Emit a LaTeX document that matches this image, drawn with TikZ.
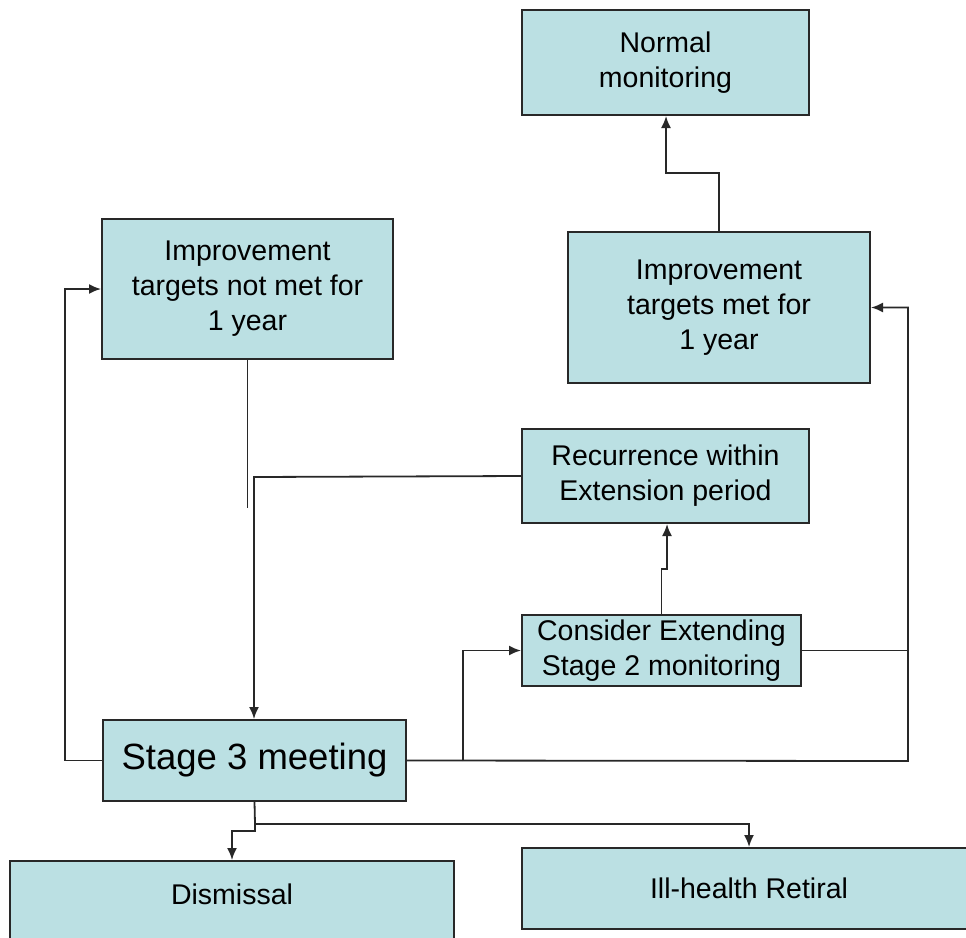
\documentclass[tikz,border=0pt]{standalone}
\usepackage{fontspec}
\setmainfont{Liberation Sans}
\usepackage{tikz}
\usetikzlibrary{arrows.meta}
\usetikzlibrary{calc}

\definecolor{boxfill}{RGB}{187,224,227}
\definecolor{boxline}{RGB}{40,40,40}

\tikzset{
  stagebox/.style={draw=boxline, fill=boxfill, line width=2pt, align=center, inner sep=0pt,
    font=\fontsize{28.5}{35}\selectfont},
  flow/.style={draw=boxline, line width=1.8pt},
  flowarrow/.style={flow, -{Latex[length=12pt,width=10pt]}}
}

\begin{document}
\begin{tikzpicture}[x=1pt,y=-1pt]
\clip (0,0) rectangle (966,937);
\fill[white] (0,0) rectangle (966,937);

% boxes
\node[stagebox, minimum width=287pt, minimum height=105pt] (normal) at (665.5,62.5) {Normal\\monitoring};
\node[stagebox, minimum width=302pt, minimum height=151pt] (met) at (719,307.5) {Improvement\\targets met for\\1 year};
\node[stagebox, minimum width=291pt, minimum height=140pt] (notmet) at (247.5,289) {Improvement\\targets not met for\\1 year};
\node[stagebox, minimum width=287pt, minimum height=94pt] (recur) at (665.5,476) {Recurrence within\\Extension period};
\node[stagebox, minimum width=279pt, minimum height=71pt] (consider) at (661.5,650.5) {Consider Extending\\Stage 2 monitoring};
\node[stagebox, minimum width=303pt, minimum height=81pt, font=\fontsize{36.5}{40}\selectfont] (stage3) at (254.5,760.5) {Stage 3 meeting};
\node[stagebox, anchor=north, minimum width=444pt, text height=43pt, text depth=47pt] (dismissal) at (232,860) {Dismissal};
\node[stagebox, minimum width=454pt, minimum height=81pt] (ill) at (749,888.5) {Ill-health Retiral};

% junctions
\coordinate (jogN) at (666,173);
\coordinate (rightbus) at (908,761);
\coordinate (branch) at (463,761);
\coordinate (stepR) at (667,569);
\coordinate (leftbus) at (254,477);
\coordinate (split) at (255,824);
\coordinate (stepD) at (232,831);

% connectors
\draw[flowarrow] (met.north) |- (jogN) -- (jogN |- normal.south);
\draw[flowarrow] (stage3.west) -- ++(-37,0) |- (notmet.west);
\draw[flowarrow] (stage3.east) -- (rightbus) |- (met.east);
\draw[flowarrow] (branch) |- (consider.west);
\draw[flow] (consider.east) -- (consider.east -| rightbus);
\draw[flowarrow] (consider.north) |- (stepR) -- (stepR |- recur.south);
\draw[flowarrow] (recur.west) -- (leftbus) -- (leftbus |- stage3.north);
\draw[flow] (notmet.south) -- ++(0,148);
\draw[flow] (stage3.south) -- (split);
\draw[flowarrow] (split) -| (ill.north);
\draw[flowarrow] (split) |- (stepD) -- (dismissal.north);
\end{tikzpicture}
\end{document}
